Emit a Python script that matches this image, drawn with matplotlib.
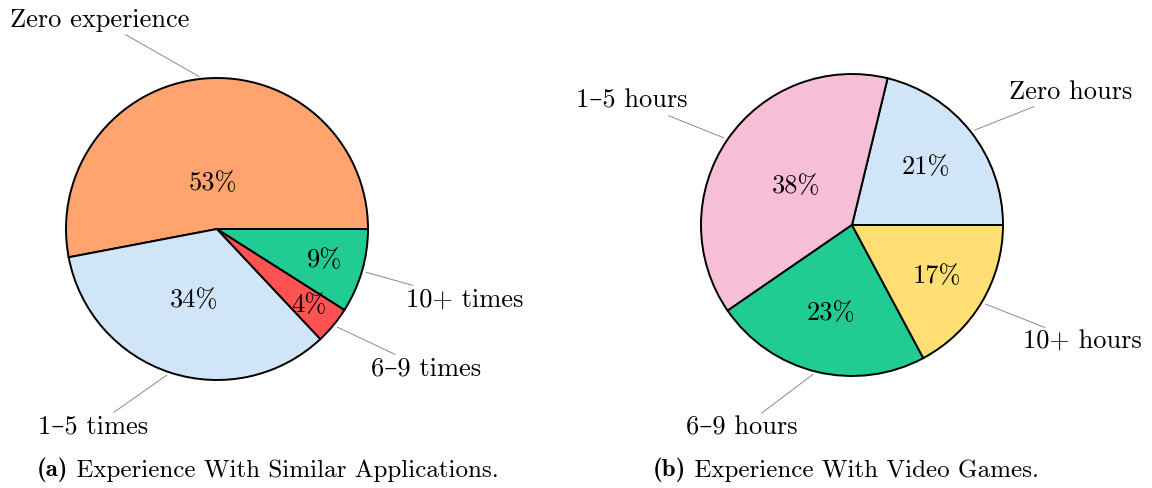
"""
Two pie charts: prior experience of participants.
"""

import matplotlib.pyplot as plt
import numpy as np

W, H = 1152, 488
R_PX = 151  # pie radius in pixels
LIM = 1.8   # axes half-width, in pie radii

apps_labels = ['Zero experience', '1–5 times', '6–9 times', '10+ times']
apps_values = [53, 34, 4, 9]
apps_colors = ['#FFA36F', '#D1E5F8', '#FF5252', '#21CC94']

games_labels = ['Zero hours', '1–5 hours', '6–9 hours', '10+ hours']
games_values = [21, 38, 23, 17]
games_colors = ['#D1E5F8', '#F7BFD7', '#21CC94', '#FFDE73']

# outer label centres relative to pie centre, in radii
apps_label_pos = [(-0.775, 1.384), (-0.821, -1.311), (1.384, -0.927), (1.642, -0.470)]
games_label_pos = [(1.450, 0.881), (-1.457, 0.821), (-0.728, -1.344), (1.523, -0.775)]

plt.rcParams['font.family'] = ['cmr10', 'DejaVu Serif']
plt.rcParams['mathtext.fontset'] = 'cm'

FS = 19
CAP_FS = 18


def make_axes(fig, cx, cy):
    size = 2 * LIM * R_PX
    ax = fig.add_axes([(cx - size / 2) / W, (H - cy - size / 2) / H, size / W, size / H])
    return ax


def draw_pie(ax, values, labels, colors, label_pos):
    wedges, _ = ax.pie(values, colors=colors, startangle=0, counterclock=True,
                       wedgeprops=dict(edgecolor='black', linewidth=1.4))
    for w, v, lab, pos in zip(wedges, values, labels, label_pos):
        span = w.theta2 - w.theta1
        mid = np.deg2rad((w.theta1 + w.theta2) / 2)
        # inner label distance shrinks for wide slices
        r_in = 0.8 + max(min((span - 10) / 110 * (-0.3), 0), -0.5)
        ax.text(r_in * np.cos(mid), r_in * np.sin(mid), f'{v}%',
                ha='center', va='center', fontsize=FS)
        ax.annotate(lab, xy=(np.cos(mid), np.sin(mid)), xytext=pos,
                    ha='center', va='center', fontsize=FS,
                    arrowprops=dict(arrowstyle='-', color='#8a8a8a', lw=0.7,
                                    shrinkA=0, shrinkB=3))
    ax.set_xlim(-LIM, LIM)
    ax.set_ylim(-LIM, LIM)
    ax.set_aspect('equal')
    ax.axis('off')


def caption(fig, x_px, y_px, tag, text):
    t = fig.text(x_px / W, 1 - y_px / H, tag, family=['cmb10', 'DejaVu Serif'],
                 fontsize=CAP_FS, ha='left', va='center')
    plt.annotate(' ' + text, xy=(1, 0), xycoords=t, ha='left', va='bottom',
                 fontsize=CAP_FS, annotation_clip=False)


fig = plt.figure(figsize=(W / 100, H / 100), dpi=100)

ax1 = make_axes(fig, 217, 229)
draw_pie(ax1, apps_values, apps_labels, apps_colors, apps_label_pos)

ax2 = make_axes(fig, 852, 225)
draw_pie(ax2, games_values, games_labels, games_colors, games_label_pos)

caption(fig, 37, 470, '(a)', 'Experience With Similar Applications.')
caption(fig, 653, 470, '(b)', 'Experience With Video Games.')

plt.savefig('out.png', dpi=100)
plt.close()
